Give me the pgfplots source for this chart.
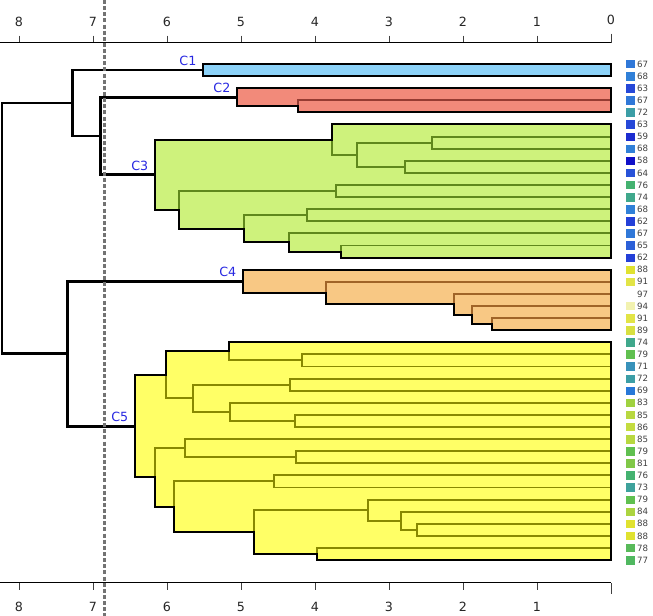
\documentclass[border=0pt]{standalone}
\usepackage{pgfplots}
\pgfplotsset{compat=1.18}
\usepackage{pgfplotstable}
\usepackage{fontspec}
\setmainfont{DejaVu Sans}

\definecolor{c1fill}{RGB}{140,210,248}
\definecolor{c2fill}{RGB}{242,138,122}
\definecolor{c2line}{RGB}{150,60,50}
\definecolor{c3fill}{RGB}{206,242,124}
\definecolor{c3line}{RGB}{96,136,28}
\definecolor{c4fill}{RGB}{248,200,132}
\definecolor{c4line}{RGB}{160,100,40}
\definecolor{c5fill}{RGB}{255,255,102}
\definecolor{c5line}{RGB}{136,136,0}
\definecolor{clabel}{RGB}{40,40,225}
\definecolor{dashgray}{RGB}{115,115,115}

\definecolor{l58}{RGB}{16,16,200}
\definecolor{l59}{RGB}{28,44,208}
\definecolor{l62}{RGB}{36,64,216}
\definecolor{l63}{RGB}{38,72,216}
\definecolor{l64}{RGB}{40,82,216}
\definecolor{l65}{RGB}{44,96,216}
\definecolor{l67}{RGB}{48,120,216}
\definecolor{l68}{RGB}{48,128,216}
\definecolor{l69}{RGB}{40,120,216}
\definecolor{l71}{RGB}{56,146,186}
\definecolor{l72}{RGB}{60,158,166}
\definecolor{l73}{RGB}{62,162,156}
\definecolor{l74}{RGB}{64,168,140}
\definecolor{l76}{RGB}{68,178,112}
\definecolor{l77}{RGB}{80,184,96}
\definecolor{l78}{RGB}{88,186,90}
\definecolor{l79}{RGB}{96,192,80}
\definecolor{l81}{RGB}{128,200,72}
\definecolor{l83}{RGB}{160,210,64}
\definecolor{l84}{RGB}{172,212,64}
\definecolor{l85}{RGB}{184,216,64}
\definecolor{l86}{RGB}{196,220,64}
\definecolor{l88}{RGB}{224,226,48}
\definecolor{l89}{RGB}{216,224,64}
\definecolor{l91}{RGB}{226,228,70}
\definecolor{l94}{RGB}{242,242,176}

\pgfplotsset{
  dendro/.style={
    scale only axis, width=458.25pt, height=405pt,
    xmin=0, xmax=8.257, ymin=-1.76, ymax=42.87,
    x dir=reverse, y dir=reverse,
    axis y line=none, clip=false,
    axis line style={-, line width=0.8pt, black},
    tick align=outside, tick style={line width=0.6pt, black!75},
    major tick length=5.25pt,
    tick label style={font=\fontsize{9.5}{11}\selectfont, text=black!85},
    /pgf/number format/assume math mode=true,
  },
  inner/.style={line width=1.4pt},
  outl/.style={line width=1.5pt, draw=black},
  toplink/.style={line width=2.1pt, draw=black},
  leafmark/.style={only marks, mark=square*, mark size=2.8pt, color=#1,
     mark options={rounded corners=0.9pt}},
}

\pgfplotstableread{
x i v
-0.26 0 67
-0.26 1 68
-0.26 2 63
-0.26 3 67
-0.26 4 72
-0.26 5 63
-0.26 6 59
-0.26 7 68
-0.26 8 58
-0.26 9 64
-0.26 10 76
-0.26 11 74
-0.26 12 68
-0.26 13 62
-0.26 14 67
-0.26 15 65
-0.26 16 62
-0.26 17 88
-0.26 18 91
-0.26 19 97
-0.26 20 94
-0.26 21 91
-0.26 22 89
-0.26 23 74
-0.26 24 79
-0.26 25 71
-0.26 26 72
-0.26 27 69
-0.26 28 83
-0.26 29 85
-0.26 30 86
-0.26 31 85
-0.26 32 79
-0.26 33 81
-0.26 34 76
-0.26 35 73
-0.26 36 79
-0.26 37 84
-0.26 38 88
-0.26 39 88
-0.26 40 78
-0.26 41 77
}\leaves

\begin{document}
\begin{tikzpicture}
\begin{axis}[dendro,
  axis x line*=top,
  xtick={1,...,8},
  extra x ticks={0},
  extra x tick style={major tick length=6.75pt},
  xticklabel style={yshift=3pt},
]
\coordinate (bbA) at (axis cs:8.257,-5.289);
\coordinate (bbB) at (axis cs:-0.5676,45.62);

% ---------- C1 ----------
\addplot[fill=c1fill, outl] coordinates {(5.51,0) (0,0) (0,1) (5.51,1)} -- cycle;

% ---------- C2 ----------
\addplot[fill=c2fill, draw=none] coordinates {(5.05,2) (0,2) (0,4) (4.23,4) (4.23,3.5) (5.05,3.5)} -- cycle;
\addplot[inner, c2line] coordinates {(0,3) (4.23,3) (4.23,4) (0,4)};
\addplot[inner, c2line] coordinates {(0,2) (5.05,2) (5.05,3.5) (4.23,3.5)};
\addplot[outl] coordinates {(5.05,2) (0,2) (0,4) (4.23,4) (4.23,3.5) (5.05,3.5)} -- cycle;

% ---------- C3 ----------
\addplot[fill=c3fill, draw=none] coordinates {(6.16,6.25) (3.77,6.25) (3.77,5) (0,5) (0,16) (3.65,16) (3.65,15.5) (4.35,15.5) (4.35,14.75) (4.96,14.75) (4.96,13.625) (5.84,13.625) (5.84,12.0625) (6.16,12.0625)} -- cycle;
\addplot[inner, c3line] coordinates {(0,6) (2.42,6) (2.42,7) (0,7)};
\addplot[inner, c3line] coordinates {(0,8) (2.78,8) (2.78,9) (0,9)};
\addplot[inner, c3line] coordinates {(2.42,6.5) (3.43,6.5) (3.43,8.5) (2.78,8.5)};
\addplot[inner, c3line] coordinates {(0,5) (3.77,5) (3.77,7.5) (3.43,7.5)};
\addplot[inner, c3line] coordinates {(0,10) (3.72,10) (3.72,11) (0,11)};
\addplot[inner, c3line] coordinates {(0,12) (4.11,12) (4.11,13) (0,13)};
\addplot[inner, c3line] coordinates {(0,15) (3.65,15) (3.65,16) (0,16)};
\addplot[inner, c3line] coordinates {(0,14) (4.35,14) (4.35,15.5) (3.65,15.5)};
\addplot[inner, c3line] coordinates {(4.11,12.5) (4.96,12.5) (4.96,14.75) (4.35,14.75)};
\addplot[inner, c3line] coordinates {(3.72,10.5) (5.84,10.5) (5.84,13.625) (4.96,13.625)};
\addplot[inner, c3line] coordinates {(3.77,6.25) (6.16,6.25) (6.16,12.0625) (5.84,12.0625)};
\addplot[outl] coordinates {(6.16,6.25) (3.77,6.25) (3.77,5) (0,5) (0,16) (3.65,16) (3.65,15.5) (4.35,15.5) (4.35,14.75) (4.96,14.75) (4.96,13.625) (5.84,13.625) (5.84,12.0625) (6.16,12.0625)} -- cycle;

% ---------- C4 ----------
\addplot[fill=c4fill, draw=none] coordinates {(4.97,17) (0,17) (0,22) (1.61,22) (1.61,21.5) (1.88,21.5) (1.88,20.75) (2.12,20.75) (2.12,19.875) (3.85,19.875) (3.85,18.9375) (4.97,18.9375)} -- cycle;
\addplot[inner, c4line] coordinates {(0,21) (1.61,21) (1.61,22) (0,22)};
\addplot[inner, c4line] coordinates {(0,20) (1.88,20) (1.88,21.5) (1.61,21.5)};
\addplot[inner, c4line] coordinates {(0,19) (2.12,19) (2.12,20.75) (1.88,20.75)};
\addplot[inner, c4line] coordinates {(0,18) (3.85,18) (3.85,19.875) (2.12,19.875)};
\addplot[inner, c4line] coordinates {(0,17) (4.97,17) (4.97,18.9375) (3.85,18.9375)};
\addplot[outl] coordinates {(4.97,17) (0,17) (0,22) (1.61,22) (1.61,21.5) (1.88,21.5) (1.88,20.75) (2.12,20.75) (2.12,19.875) (3.85,19.875) (3.85,18.9375) (4.97,18.9375)} -- cycle;

% ---------- C5 ----------
\addplot[fill=c5fill, draw=none] coordinates {(6.43,25.6875) (6.01,25.6875) (6.01,23.75) (5.16,23.75) (5.16,23) (0,23) (0,41) (3.97,41) (3.97,40.5) (4.83,40.5) (4.83,38.6875) (5.90,38.6875) (5.90,36.59375) (6.16,36.59375) (6.16,34.171875) (6.43,34.171875)} -- cycle;
\addplot[inner, c5line] coordinates {(0,24) (4.18,24) (4.18,25) (0,25)};
\addplot[inner, c5line] coordinates {(0,23) (5.16,23) (5.16,24.5) (4.18,24.5)};
\addplot[inner, c5line] coordinates {(0,26) (4.34,26) (4.34,27) (0,27)};
\addplot[inner, c5line] coordinates {(0,29) (4.27,29) (4.27,30) (0,30)};
\addplot[inner, c5line] coordinates {(0,28) (5.15,28) (5.15,29.5) (4.27,29.5)};
\addplot[inner, c5line] coordinates {(4.34,26.5) (5.65,26.5) (5.65,28.75) (5.15,28.75)};
\addplot[inner, c5line] coordinates {(5.16,23.75) (6.01,23.75) (6.01,27.625) (5.65,27.625)};
\addplot[inner, c5line] coordinates {(0,32) (4.26,32) (4.26,33) (0,33)};
\addplot[inner, c5line] coordinates {(0,31) (5.76,31) (5.76,32.5) (4.26,32.5)};
\addplot[inner, c5line] coordinates {(0,34) (4.55,34) (4.55,35) (0,35)};
\addplot[inner, c5line] coordinates {(0,38) (2.62,38) (2.62,39) (0,39)};
\addplot[inner, c5line] coordinates {(0,37) (2.84,37) (2.84,38.5) (2.62,38.5)};
\addplot[inner, c5line] coordinates {(0,36) (3.28,36) (3.28,37.75) (2.84,37.75)};
\addplot[inner, c5line] coordinates {(0,40) (3.97,40) (3.97,41) (0,41)};
\addplot[inner, c5line] coordinates {(3.28,36.875) (4.83,36.875) (4.83,40.5) (3.97,40.5)};
\addplot[inner, c5line] coordinates {(4.55,34.5) (5.90,34.5) (5.90,38.6875) (4.83,38.6875)};
\addplot[inner, c5line] coordinates {(5.76,31.75) (6.16,31.75) (6.16,36.59375) (5.90,36.59375)};
\addplot[inner, c5line] coordinates {(6.01,25.6875) (6.43,25.6875) (6.43,34.171875) (6.16,34.171875)};
\addplot[outl] coordinates {(6.43,25.6875) (6.01,25.6875) (6.01,23.75) (5.16,23.75) (5.16,23) (0,23) (0,41) (3.97,41) (3.97,40.5) (4.83,40.5) (4.83,38.6875) (5.90,38.6875) (5.90,36.59375) (6.16,36.59375) (6.16,34.171875) (6.43,34.171875)} -- cycle;

% ---------- top-level links ----------
\addplot[toplink] coordinates {(5.05,2.75) (6.90,2.75) (6.90,9.15625) (6.16,9.15625)};
\addplot[toplink] coordinates {(5.51,0.5) (7.28,0.5) (7.28,5.953) (6.90,5.953)};
\addplot[toplink] coordinates {(4.97,17.96875) (7.35,17.96875) (7.35,29.93) (6.43,29.93)};
\addplot[toplink] coordinates {(7.28,3.2266) (8.23,3.2266) (8.23,23.949) (7.35,23.949)};

% ---------- cluster labels ----------
\begin{scope}[every node/.style={anchor=south east, inner sep=0pt, text=clabel, font=\fontsize{9.5}{11}\selectfont}]
\node[xshift=-5pt, yshift=3pt] at (axis cs:5.51,0.5) {C1};
\node[xshift=-5pt, yshift=3pt] at (axis cs:5.05,2.75) {C2};
\node[xshift=-5pt, yshift=3pt] at (axis cs:6.16,9.15625) {C3};
\node[xshift=-5pt, yshift=3pt] at (axis cs:4.97,17.96875) {C4};
\node[xshift=-5pt, yshift=3pt] at (axis cs:6.43,29.93) {C5};
\end{scope}

% ---------- leaf markers (coloured by leaf value) ----------
\addplot[leafmark=l58] coordinates {(-0.26,8)};
\addplot[leafmark=l59] coordinates {(-0.26,6)};
\addplot[leafmark=l62] coordinates {(-0.26,13) (-0.26,16)};
\addplot[leafmark=l63] coordinates {(-0.26,2) (-0.26,5)};
\addplot[leafmark=l64] coordinates {(-0.26,9)};
\addplot[leafmark=l65] coordinates {(-0.26,15)};
\addplot[leafmark=l67] coordinates {(-0.26,0) (-0.26,3) (-0.26,14)};
\addplot[leafmark=l68] coordinates {(-0.26,1) (-0.26,7) (-0.26,12)};
\addplot[leafmark=l69] coordinates {(-0.26,27)};
\addplot[leafmark=l71] coordinates {(-0.26,25)};
\addplot[leafmark=l72] coordinates {(-0.26,4) (-0.26,26)};
\addplot[leafmark=l73] coordinates {(-0.26,35)};
\addplot[leafmark=l74] coordinates {(-0.26,11) (-0.26,23)};
\addplot[leafmark=l76] coordinates {(-0.26,10) (-0.26,34)};
\addplot[leafmark=l77] coordinates {(-0.26,41)};
\addplot[leafmark=l78] coordinates {(-0.26,40)};
\addplot[leafmark=l79] coordinates {(-0.26,24) (-0.26,32) (-0.26,36)};
\addplot[leafmark=l81] coordinates {(-0.26,33)};
\addplot[leafmark=l83] coordinates {(-0.26,28)};
\addplot[leafmark=l84] coordinates {(-0.26,37)};
\addplot[leafmark=l85] coordinates {(-0.26,29) (-0.26,31)};
\addplot[leafmark=l86] coordinates {(-0.26,30)};
\addplot[leafmark=l88] coordinates {(-0.26,17) (-0.26,38) (-0.26,39)};
\addplot[leafmark=l89] coordinates {(-0.26,22)};
\addplot[leafmark=l91] coordinates {(-0.26,18) (-0.26,21)};
\addplot[leafmark=l94] coordinates {(-0.26,20)};

% ---------- leaf value labels ----------
\addplot[only marks, mark=none, point meta=explicit,
  nodes near coords,
  every node near coord/.append style={anchor=west, xshift=5pt, inner sep=0pt,
     font=\fontsize{6.5}{7}\selectfont, text=black!75}]
  table[x=x, y=i, meta=v] {\leaves};

% ---------- cut line ----------
\addplot[dashgray, line width=2.1pt, dash pattern=on 3pt off 1.6pt] coordinates {(6.84,-5.289) (6.84,45.62)};
\end{axis}

\begin{axis}[dendro,
  axis x line*=bottom,
  xtick={1,...,8},
  extra x ticks={0},
  extra x tick labels={},
  extra x tick style={major tick length=8.25pt},
  xticklabel style={yshift=-6pt},
]
\end{axis}
\pgfresetboundingbox
\useasboundingbox (bbA) rectangle (bbB);
\end{tikzpicture}
\end{document}
